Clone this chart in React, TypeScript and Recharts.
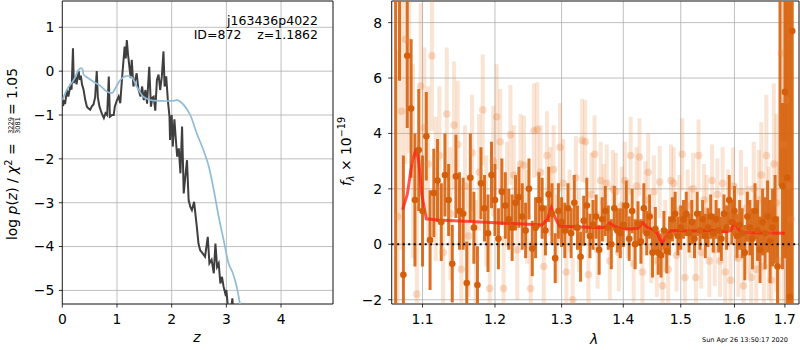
import React from 'react'
import {
  ComposedChart,
  Line,
  Scatter,
  ErrorBar,
  XAxis,
  YAxis,
  CartesianGrid,
  ReferenceLine,
  ReferenceArea
} from 'recharts'

const FONT = '"DejaVu Sans", sans-serif'
const GRID = '#b0b0b0'

// ---- left panel: log p(z) ----
const zGrid = [
  0.00, 0.015, 0.03, 0.05, 0.085, 0.11, 0.146, 0.17, 0.195, 0.21,
  0.24, 0.26, 0.30, 0.32, 0.34, 0.36, 0.39, 0.42, 0.45, 0.48,
  0.51, 0.54, 0.57, 0.60, 0.63, 0.65, 0.68, 0.72, 0.76, 0.79,
  0.82, 0.85, 0.87, 0.91, 0.94, 0.96, 1.00, 1.03, 1.06, 1.09,
  1.12, 1.14, 1.16, 1.18, 1.20, 1.22, 1.25, 1.27, 1.30, 1.33,
  1.36, 1.39, 1.43, 1.46, 1.49, 1.52, 1.55, 1.57, 1.59, 1.61,
  1.62, 1.65, 1.67, 1.70, 1.73, 1.76, 1.79, 1.82, 1.85, 1.87,
  1.90, 1.93, 1.96, 1.97, 2.00, 2.02, 2.05, 2.07, 2.10, 2.13,
  2.16, 2.19, 2.22, 2.25, 2.28, 2.31, 2.34, 2.37, 2.41, 2.46,
  2.49, 2.52, 2.57, 2.61, 2.66, 2.69, 2.73, 2.77, 2.80, 2.83,
  2.86, 2.89, 2.92, 2.95, 2.98, 3.00, 3.03, 3.07, 3.11, 3.13
]
const logPz = [
  -0.55, -0.8, -0.66, -0.75, -0.43, -0.58, -0.35, -0.42, 0.52, -0.27,
  -0.12, -0.3, 0.0, -0.2, -0.1, -0.3, -0.43, -0.66, -0.81, -0.85,
  -0.88, -0.8, -0.76, -0.6, 0.0, -0.6, -0.81, -0.96, -1.07, -0.96,
  -1.0, -0.12, -1.04, -1.0, -1.0, -0.81, -0.66, -0.58, -0.73, -0.2,
  0.26, 0.56, 0.29, 0.71, 0.4, 0.18, -0.16, 0.26, -0.35, -0.2,
  -0.05, -0.4, -0.58, -0.35, -0.66, -0.43, -0.74, -0.3, 0.1, -0.5,
  -0.81, -0.6, -0.58, -0.9, -0.2, -0.08, -0.43, -0.12, 0.45, -0.35,
  -0.12, -0.66, -1.04, -1.57, -1.0, -1.72, -1.1, -1.45, -1.95, -1.76,
  -2.33, -1.26, -2.79, -2.4, -2.03, -2.94, -3.09, -3.17, -2.98, -3.55,
  -3.93, -4.08, -4.16, -4.23, -3.78, -4.38, -4.3, -4.61, -3.93, -4.46,
  -4.38, -4.84, -4.69, -4.92, -5.07, -4.99, -5.4, -5.6, -5.18, -5.6
]
const zPrior = [
  0.00, 0.08, 0.21, 0.30, 0.34, 0.37, 0.39, 0.45, 0.57, 0.70,
  0.82, 0.91, 0.97, 1.06, 1.18, 1.27, 1.36, 1.48, 1.55, 1.67,
  1.91, 2.05, 2.10, 2.14, 2.22, 2.34, 2.46, 2.58, 2.68, 2.77,
  2.86, 2.95, 3.04, 3.12, 3.19, 3.25, 3.30
]
const logPrior = [
  -0.66, -0.43, -0.2, 0.03, 0.07, 0.04, -0.08, -0.14, -0.24, -0.34,
  -0.47, -0.5, -0.39, -0.2, -0.11, -0.14, -0.35, -0.58, -0.63, -0.67,
  -0.68, -0.67, -0.66, -0.68, -0.77, -1.0, -1.42, -1.8, -2.18, -2.71,
  -3.32, -3.85, -4.38, -4.61, -4.92, -5.31, -5.6
]
const zTicks = [0, 1, 2, 3, 4]
const pTicks = [-5, -4, -3, -2, -1, 0, 1]

// ---- right panel: spectrum ----
const darkWave = [
  1.065, 1.070, 1.075, 1.080, 1.085, 1.090, 1.095, 1.100, 1.105, 1.110,
  1.115, 1.120, 1.125, 1.130, 1.135, 1.140, 1.145, 1.150, 1.155, 1.160,
  1.165, 1.170, 1.175, 1.180, 1.185, 1.190, 1.195, 1.200, 1.205, 1.210,
  1.215, 1.220, 1.225, 1.230, 1.235, 1.240, 1.245, 1.250, 1.255, 1.260,
  1.265, 1.270, 1.275, 1.280, 1.285, 1.290, 1.295, 1.300, 1.305, 1.310,
  1.315, 1.320, 1.325, 1.330, 1.335, 1.340, 1.345, 1.350, 1.355, 1.360,
  1.365, 1.370, 1.375, 1.380, 1.385, 1.390, 1.395, 1.400, 1.405, 1.410,
  1.415, 1.420, 1.425, 1.430, 1.435, 1.440, 1.445, 1.450, 1.455, 1.460,
  1.465, 1.470, 1.475, 1.480, 1.485, 1.490, 1.495, 1.500, 1.505, 1.510,
  1.515, 1.520, 1.525, 1.530, 1.535, 1.540, 1.545, 1.550, 1.555, 1.560,
  1.565, 1.570, 1.575, 1.580, 1.585, 1.590, 1.595, 1.600, 1.605, 1.610,
  1.615, 1.620, 1.625, 1.630, 1.635, 1.640, 1.645, 1.650, 1.655, 1.660,
  1.665, 1.670, 1.675, 1.680, 1.685, 1.690, 1.695, 1.700, 1.705, 1.710,
  1.715
]
const darkFlux = [
  -3.0, 10.0, -1.1, 6.8, 4.9, 1.6, 3.4, 1.2, 3.9, 0.15,
  1.85, 2.3, 0.8, 2.5, 1.6, -0.7, 2.45, 1.2, 1.1, -1.4,
  2.4, 0.6, -1.47, 2.2, 1.3, 0.4, 2.5, 1.6, 0.2, 1.9,
  1.4, 0.9, 0.6, 1.5, 1.7, 1.0, 0.5, 2.0, -0.15, 0.6,
  1.6, 1.3, 0.5, 1.8, 1.1, -0.5, 1.2, 0.8, 0.5, 1.3,
  0.4, 1.5, 0.6, -0.45, 0.85, 1.4, 0.3, 0.7, 1.0, -0.2,
  0.9, 1.2, 0.6, 0.0, 1.3, 0.5, 0.4, 0.7, 1.4, 0.2,
  1.2, 0.0, 0.75, 0.1, 1.3, 0.4, 1.0, -0.3, 0.55, -0.3,
  -0.4, 0.5, -0.25, 0.3, 0.9, 1.1, 0.3, 0.6, 0.9, 1.1,
  0.4, 0.8, 0.2, 1.1, 0.5, 0.9, 0.3, 0.6, 1.0, 0.4,
  0.9, 0.5, 0.2, 1.1, 0.6, 1.6, 0.8, 1.2, 0.3, 0.7,
  0.4, -0.3, 1.0, 0.6, 0.2, 1.2, 0.5, -0.2, 0.8, 0.4,
  1.0, 0.1, 0.6, 0.9, -0.8, 9.5, 2.1, 5.5, 2.4, -1.9,
  7.7
]
const darkErr = [
  15, 4.1, 4.3, 2.6, 2.5, 2.4, 2.2, 2.0, 1.6, 1.8,
  1.6, 1.5, 1.4, 1.5, 1.3, 1.4, 1.5, 1.4, 1.3, 1.5,
  1.6, 1.3, 1.4, 1.3, 1.2, 1.4, 1.2, 1.3, 1.1, 1.2,
  1.2, 1.1, 1.2, 1.0, 1.1, 1.2, 1.0, 1.1, 1.0, 1.1,
  1.0, 1.1, 0.9, 1.0, 1.1, 0.9, 1.0, 0.9, 1.0, 0.9,
  0.9, 1.0, 0.8, 0.9, 0.9, 1.0, 0.8, 0.9, 0.8, 0.9,
  0.8, 0.9, 0.8, 0.9, 0.8, 0.8, 0.9, 0.8, 0.9, 0.8,
  0.8, 0.9, 0.8, 0.8, 0.9, 0.8, 0.8, 0.9, 0.8, 0.8,
  0.8, 0.7, 0.8, 0.7, 0.8, 0.8, 0.7, 0.8, 0.7, 0.8,
  0.7, 0.8, 0.7, 0.8, 0.7, 0.7, 0.8, 0.7, 0.8, 0.7,
  0.7, 0.8, 0.8, 0.7, 0.8, 0.9, 0.8, 0.9, 0.8, 0.9,
  0.9, 1.0, 0.9, 1.0, 1.1, 1.0, 1.1, 1.2, 1.2, 1.3,
  1.3, 1.5, 1.4, 1.6, 1.8, 7.4, 3.0, 6.0, 8.0, 12,
  12
]
const lightWave = [
  1.0675, 1.0725, 1.0775, 1.0825, 1.0875, 1.0925, 1.0975, 1.1025, 1.1075, 1.1125,
  1.1175, 1.1225, 1.1275, 1.1325, 1.1375, 1.1425, 1.1475, 1.1525, 1.1575, 1.1625,
  1.1675, 1.1725, 1.1775, 1.1825, 1.1875, 1.1925, 1.1975, 1.2025, 1.2075, 1.2125,
  1.2175, 1.2225, 1.2275, 1.2325, 1.2375, 1.2425, 1.2475, 1.2525, 1.2575, 1.2625,
  1.2675, 1.2725, 1.2775, 1.2825, 1.2875, 1.2925, 1.2975, 1.3025, 1.3075, 1.3125,
  1.3175, 1.3225, 1.3275, 1.3325, 1.3375, 1.3425, 1.3475, 1.3525, 1.3575, 1.3625,
  1.3675, 1.3725, 1.3775, 1.3825, 1.3875, 1.3925, 1.3975, 1.4025, 1.4075, 1.4125,
  1.4175, 1.4225, 1.4275, 1.4325, 1.4375, 1.4425, 1.4475, 1.4525, 1.4575, 1.4625,
  1.4675, 1.4725, 1.4775, 1.4825, 1.4875, 1.4925, 1.4975, 1.5025, 1.5075, 1.5125,
  1.5175, 1.5225, 1.5275, 1.5325, 1.5375, 1.5425, 1.5475, 1.5525, 1.5575, 1.5625,
  1.5675, 1.5725, 1.5775, 1.5825, 1.5875, 1.5925, 1.5975, 1.6025, 1.6075, 1.6125,
  1.6175, 1.6225, 1.6275, 1.6325, 1.6375, 1.6425, 1.6475, 1.6525, 1.6575, 1.6625,
  1.6675, 1.6725, 1.6775, 1.6825, 1.6875, 1.6925, 1.6975, 1.7025, 1.7075, 1.7125
]
const lightFlux = [
  1.0, 4.8, 7.4, 7.3, 3.0, -1.8, 5.7, 4.2, 2.9, 6.8,
  2.0, 3.2, -0.3, 4.7, 1.1, 4.3, 3.6, -0.9, 2.1, 0.3,
  3.3, -0.5, 2.6, 4.85, 1.2, -1.6, 3.0, 4.6, 3.7, -1.6,
  1.8, 3.95, 2.5, -0.2, 2.9, 2.85, 1.0, -1.6, 4.1, 4.15,
  2.6, -0.8, 3.2, 1.9, 2.7, 0.2, 3.5, 2.2, -1.0, 1.2,
  -2.0, 2.4, 0.5, 3.75, 3.7, -1.1, 1.8, 3.25, -0.2, 2.3,
  1.5, 2.2, -0.6, 2.0, 1.9, -0.3, 1.4, 2.3, 0.9, 3.2,
  -0.7, 2.1, 3.15, -1.0, 1.6, 2.6, -0.1, 1.9, -0.6, 2.25,
  -1.5, 0.3, -0.9, 2.3, 2.2, -0.4, 1.2, 3.25, -1.2, 1.4,
  0.8, 2.0, -1.2, 3.2, -0.3, 1.6, 1.2, -0.6, 2.3, -0.2,
  1.8, -0.6, 2.2, -1.0, 1.3, -1.3, 2.1, 0.8, -0.5, 1.9,
  -1.5, 1.3, 0.5, -1.2, 2.0, -0.9, 1.6, 2.5, -0.8, 3.2,
  0.4, -1.3, 2.9, 1.5, -0.6, 6.9, 3.6, 5.2, 2.1, 0.9
]
const lightErr = [
  6, 5, 4.5, 4, 3.5, 3.2, 3.0, 2.9, 2.8, 2.7,
  2.6, 2.5, 2.5, 2.4, 2.4, 2.3, 2.3, 2.2, 2.2, 2.2,
  2.1, 2.1, 2.1, 2.0, 2.0, 2.0, 2.0, 1.9, 1.9, 1.9,
  1.9, 1.8, 1.8, 1.8, 1.8, 1.8, 1.7, 1.7, 1.7, 1.7,
  1.7, 1.7, 1.6, 1.6, 1.6, 1.6, 1.6, 1.6, 1.5, 1.5,
  1.5, 1.5, 1.5, 1.5, 1.5, 1.5, 1.5, 1.4, 1.4, 1.4,
  1.4, 1.4, 1.4, 1.4, 1.4, 1.4, 1.4, 1.4, 1.4, 1.4,
  1.4, 1.4, 1.4, 1.4, 1.4, 1.4, 1.3, 1.3, 1.3, 1.3,
  1.3, 1.3, 1.3, 1.3, 1.3, 1.3, 1.3, 1.3, 1.3, 1.3,
  1.3, 1.3, 1.3, 1.3, 1.3, 1.3, 1.3, 1.3, 1.3, 1.3,
  1.3, 1.3, 1.3, 1.4, 1.4, 1.4, 1.4, 1.4, 1.4, 1.5,
  1.5, 1.5, 1.6, 1.6, 1.7, 1.7, 1.8, 1.9, 2.0, 2.2,
  2.4, 2.6, 2.9, 3.2, 3.6, 4.5, 6, 8, 10, 12
]
const modelWave = [
  1.074, 1.080, 1.086, 1.0915, 1.095, 1.099, 1.105, 1.12, 1.15, 1.2,
  1.25, 1.27, 1.278, 1.284, 1.290, 1.297, 1.32, 1.36, 1.372, 1.377,
  1.383, 1.39, 1.41, 1.425, 1.433, 1.44, 1.452, 1.458, 1.4665, 1.474,
  1.483, 1.52, 1.56, 1.585, 1.593, 1.600, 1.606, 1.612, 1.65, 1.70
]
const modelFlux = [
  1.25, 1.8, 2.9, 3.45, 3.0, 1.8, 0.92, 0.88, 0.84, 0.78,
  0.72, 0.7, 0.9, 1.32, 0.95, 0.65, 0.63, 0.6, 0.62, 0.77,
  0.68, 0.6, 0.55, 0.58, 0.78, 0.62, 0.52, 0.4, 0.02, 0.3,
  0.5, 0.48, 0.5, 0.45, 0.5, 0.8, 0.6, 0.43, 0.41, 0.4
]
const waveTicks = [1.1, 1.2, 1.3, 1.4, 1.5, 1.6, 1.7]
const fluxTicks = [-2, 0, 2, 4, 6, 8]

const pzData = zGrid.map((x, i) => ({ x, y: logPz[i] }))
const priorData = zPrior.map((x, i) => ({ x, y: logPrior[i] }))
const darkData = darkWave.map((x, i) => ({ x, y: darkFlux[i], e: darkErr[i] }))
const lightData = lightWave.map((x, i) => ({ x, y: lightFlux[i], e: lightErr[i] }))
const modelData = modelWave.map((x, i) => ({ x, y: modelFlux[i] }))

const fmt = (v: number) => String(v).replace('-', '\u2212')
const tickStyle = { fill: '#000', fontSize: 13.9, fontFamily: FONT }
const tickLine = { stroke: '#000', strokeWidth: 0.8 }

const Z_DOMAIN: [number, number] = [0, 4.95]
const P_DOMAIN: [number, number] = [-5.31, 1.6]
const W_DOMAIN: [number, number] = [1.06, 1.729]
const F_DOMAIN: [number, number] = [-2.155, 8.78]

// plot box of the spectrum panel inside its own svg (axis width / margins below)
const SPEC_BOX = { x: 51.7, y: 1, w: 407.3, h: 303 }

function PzPanel() {
  return (
    <ComposedChart width={340} height={350} margin={{ top: 1, right: 7, bottom: 16, left: 0 }}>
      <CartesianGrid stroke={GRID} strokeWidth={0.8} />
      <XAxis
        dataKey="x" type="number" domain={Z_DOMAIN} ticks={zTicks} allowDataOverflow
        height={30} tickSize={3.5} tickMargin={7} axisLine={false} tickLine={tickLine}
        tick={tickStyle} tickFormatter={fmt}
      />
      <YAxis
        dataKey="y" type="number" domain={P_DOMAIN} ticks={pTicks} allowDataOverflow
        width={62.3} tickSize={3.5} tickMargin={4.5} axisLine={false} tickLine={tickLine}
        tick={tickStyle} tickFormatter={fmt}
      />
      <Line data={pzData} dataKey="y" stroke="#3f3f3f" strokeWidth={2} dot={false} isAnimationActive={false} />
      <Line data={priorData} dataKey="y" type="monotone" stroke="#8fbbd9" strokeWidth={1.7} dot={false} isAnimationActive={false} />
      <ReferenceArea x1={Z_DOMAIN[0]} x2={Z_DOMAIN[1]} y1={P_DOMAIN[0]} y2={P_DOMAIN[1]} fill="none" stroke="#000" strokeWidth={0.8} />
    </ComposedChart>
  )
}

function SpecPanel() {
  return (
    <ComposedChart width={460} height={350} margin={{ top: SPEC_BOX.y, right: 1, bottom: 16, left: 0 }}>
      <CartesianGrid stroke={GRID} strokeWidth={0.8} />
      <XAxis
        dataKey="x" type="number" scale="log" domain={W_DOMAIN} ticks={waveTicks} allowDataOverflow
        height={30} tickSize={3.5} tickMargin={7} axisLine={false} tickLine={tickLine}
        tick={tickStyle} tickFormatter={fmt}
      />
      <YAxis
        dataKey="y" type="number" domain={F_DOMAIN} ticks={fluxTicks} allowDataOverflow
        width={SPEC_BOX.x} tickSize={3.5} tickMargin={6} axisLine={false} tickLine={tickLine}
        tick={tickStyle} tickFormatter={fmt}
      />
      <Scatter
        data={lightData} isAnimationActive={false}
        shape={(p: any) => <circle cx={p.cx} cy={p.cy} r={3.8} fill="rgba(232,130,60,0.28)" />}
      >
        <ErrorBar dataKey="e" direction="y" width={0} stroke="rgba(232,130,60,0.22)" strokeWidth={4} isAnimationActive={false} />
      </Scatter>
      <Scatter
        data={darkData} isAnimationActive={false}
        shape={(p: any) => <circle cx={p.cx} cy={p.cy} r={3.3} fill="#d45e0a" />}
      >
        <ErrorBar dataKey="e" direction="y" width={0} stroke="rgba(214,98,12,0.9)" strokeWidth={3} isAnimationActive={false} />
      </Scatter>
      <Line data={modelData} dataKey="y" stroke="rgba(255,30,20,0.75)" strokeWidth={3} dot={false} isAnimationActive={false} />
      <ReferenceLine y={0} stroke="#000" strokeWidth={2} strokeDasharray="2 3.5" />
      <ReferenceArea x1={W_DOMAIN[0]} x2={W_DOMAIN[1]} y1={F_DOMAIN[0]} y2={F_DOMAIN[1]} fill="none" stroke="#000" strokeWidth={0.8} />
    </ComposedChart>
  )
}

export default function App() {
  return (
    <div style={{ position: 'absolute', left: 0, top: 0, width: 800, height: 350, background: '#fff', fontFamily: FONT }}>
      <style>{`
        .spec-panel .recharts-scatter,
        .spec-panel .recharts-errorBars,
        .spec-panel .recharts-errorBar { clip-path: url(#spec-clip); }
      `}</style>
      <svg width={0} height={0} style={{ position: 'absolute' }}>
        <defs>
          <clipPath id="spec-clip" clipPathUnits="userSpaceOnUse">
            <rect x={SPEC_BOX.x} y={SPEC_BOX.y} width={SPEC_BOX.w} height={SPEC_BOX.h} />
          </clipPath>
        </defs>
      </svg>
      <div style={{ position: 'absolute', left: 0, top: 0 }}>
        <PzPanel />
      </div>
      <div className="spec-panel" style={{ position: 'absolute', left: 340, top: 0 }}>
        <SpecPanel />
      </div>
      <svg width={800} height={350} style={{ position: 'absolute', left: 0, top: 0, pointerEvents: 'none' }} fontFamily={FONT}>
        <g transform="translate(17,154) rotate(-90)">
          <text x={-86} y={0} fontSize={13.9} style={{ whiteSpace: 'pre' }}>
            log <tspan fontStyle="italic">p</tspan>(<tspan fontStyle="italic">z</tspan>) / <tspan fontStyle="italic">χ</tspan>
            <tspan fontSize={9.7} dy={-5}>2</tspan>
            <tspan dy={5}> =</tspan>
          </text>
          <text x={28.5} y={-4.2} fontSize={6.5} textAnchor="middle">3229</text>
          <line x1={21} x2={36} y1={-3.2} y2={-3.2} stroke="#000" strokeWidth={0.6} />
          <text x={28.5} y={2.8} fontSize={6.5} textAnchor="middle">3081</text>
          <text x={86} y={0} fontSize={13.9} textAnchor="end">= 1.05</text>
        </g>
        <text x={318} y={25} fontSize={12.5} textAnchor="end">j163436p4022</text>
        <text x={318} y={39} fontSize={12.5} textAnchor="end" style={{ whiteSpace: 'pre' }}>ID=872    z=1.1862</text>
        <text x={197} y={342} fontSize={13.9} textAnchor="middle" fontStyle="italic">z</text>
        <g transform="translate(350.7,151.5) rotate(-90)">
          <text x={0} y={0} fontSize={13.9} textAnchor="middle" style={{ whiteSpace: 'pre' }}>
            <tspan fontStyle="italic">f</tspan>
            <tspan fontSize={9.7} dy={3} fontStyle="italic">λ</tspan>
            <tspan dy={-3}> × 10</tspan>
            <tspan fontSize={9.7} dy={-6}>−19</tspan>
          </text>
        </g>
        <text x={594} y={344} fontSize={13.9} textAnchor="middle" fontStyle="italic">λ</text>
        <text x={788} y={342} fontSize={6.5} textAnchor="end">Sun Apr 26 13:50:17 2020</text>
      </svg>
    </div>
  )
}
